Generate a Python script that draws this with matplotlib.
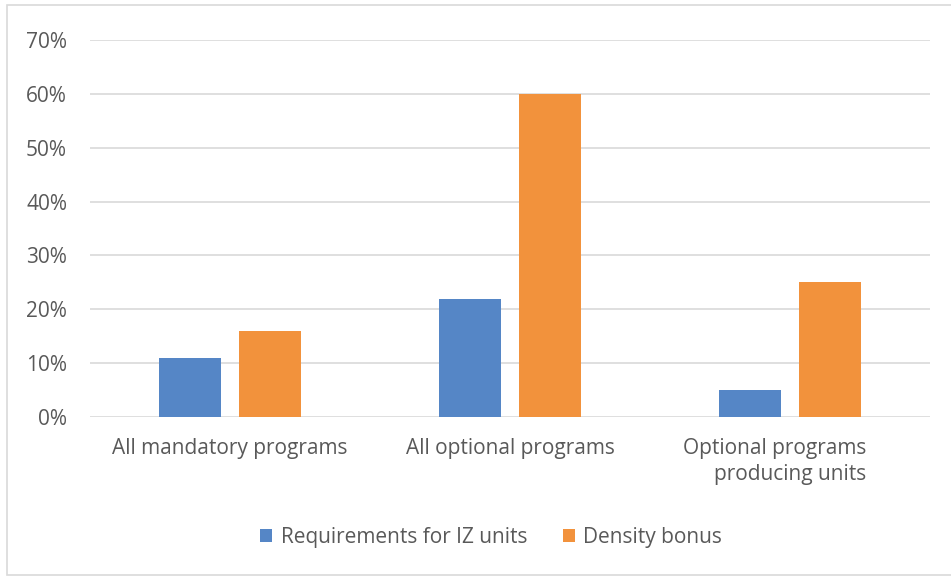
import numpy as np
import matplotlib.pyplot as plt
from matplotlib.patches import Rectangle
from matplotlib.ticker import FuncFormatter
from matplotlib.transforms import ScaledTranslation

plt.rcParams["font.family"] = ["Open Sans", "DejaVu Sans"]

# data
categories = ["All mandatory programs", "All optional programs",
              "Optional programs\nproducing units"]
iz_units = [11, 22, 5]
density_bonus = [16, 60, 25]
series_names = ["Requirements for IZ units", "Density bonus"]

BLUE = "#5586c6"
ORANGE = "#f2923c"
GRID = "#d9d9d9"
TEXT = "#595959"
FS = 15

fig = plt.figure(figsize=(9.51, 5.78), dpi=100)
ax = fig.add_axes([90 / 951, 1 - 417 / 578, 840 / 951, 377 / 578])

x = np.arange(len(categories))
w = 0.222
off = 0.142
ax.bar(x - off, iz_units, w, color=BLUE, label=series_names[0], zorder=3)
ax.bar(x + off, density_bonus, w, color=ORANGE, label=series_names[1], zorder=3)

ax.set_xlim(-0.5, len(categories) - 0.5)
ax.set_ylim(0, 70)
ax.set_yticks(range(0, 71, 10))
ax.yaxis.set_major_formatter(FuncFormatter(lambda v, _: f"{int(v)}%"))
ax.grid(axis="y", color=GRID, linewidth=1.2, zorder=0)

ax.set_xticks(x)
ax.set_xticklabels(categories, fontsize=FS, color=TEXT, linespacing=1.3)
ax.tick_params(axis="x", length=0, pad=15)
ax.tick_params(axis="y", length=0, pad=16.5, labelsize=FS, labelcolor=TEXT)
for s in ax.spines.values():
    s.set_visible(False)

# the two-line label is right-aligned in the reference, a little left of centre
last = ax.get_xticklabels()[-1]
last.set_multialignment("right")
last.set_transform(last.get_transform() + ScaledTranslation(-15 / 100, 0, fig.dpi_scale_trans))

leg = fig.legend(loc="center", bbox_to_anchor=(491 / 951, 1 - 537 / 578), ncol=2,
                 frameon=False, fontsize=FS, handlelength=0.6, handleheight=0.6,
                 handletextpad=0.4, columnspacing=1.7)
for t in leg.get_texts():
    t.set_color(TEXT)

# light frame round the whole chart
fig.patches.append(Rectangle((7 / 951, 3 / 578), 945 / 951, 570 / 578,
                             transform=fig.transFigure, fill=False,
                             edgecolor="#d9d9d9", linewidth=1.2))

fig.savefig("out.png", dpi=100)
